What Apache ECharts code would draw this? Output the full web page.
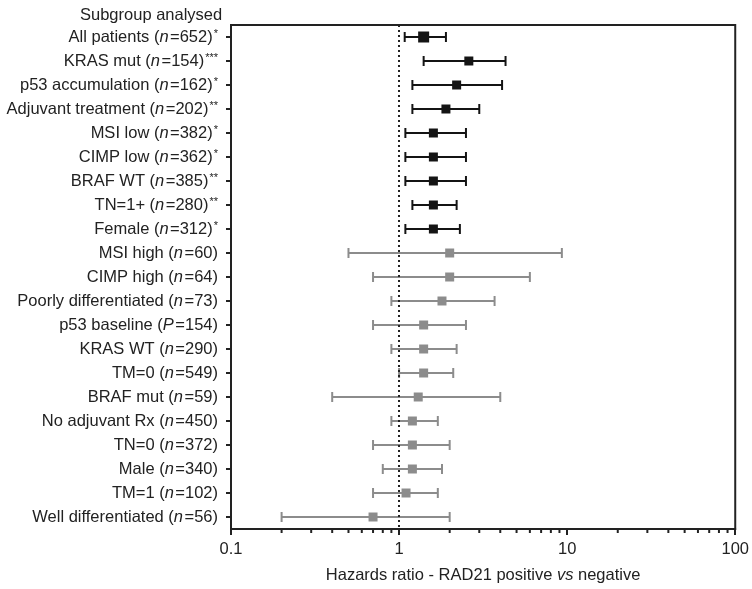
<!DOCTYPE html>
<html>
<head>
<meta charset="utf-8">
<script src="https://cdn.jsdelivr.net/npm/echarts@6/dist/echarts.min.js"></script>
<style>html,body{margin:0;padding:0;background:#fff}#c{width:752px;height:589px}</style>
</head>
<body>
<div id="c"></div>
<script>
// Subgroup labels
const groupNames = ['All patients','KRAS mut','p53 accumulation','Adjuvant treatment','MSI low','CIMP low','BRAF WT','TN=1+','Female','MSI high','CIMP high','Poorly differentiated','p53 baseline','KRAS WT','TM=0','BRAF mut','No adjuvant Rx','TN=0','Male','TM=1','Well differentiated'];
const countSymbol = ['n','n','n','n','n','n','n','n','n','n','n','n','P','n','n','n','n','n','n','n','n'];
const counts = [652,154,162,202,382,362,385,280,312,60,64,73,154,290,549,59,450,372,340,102,56];
const stars = ['*','***','*','**','*','*','**','**','*','','','','','','','','','','','',''];
// Hazard ratios and 95% CI
const hr    = [1.4, 2.6, 2.2, 1.9, 1.6, 1.6, 1.6, 1.6, 1.6, 2.0, 2.0, 1.8, 1.4, 1.4, 1.4, 1.3, 1.2, 1.2, 1.2, 1.1, 0.7];
const ciLow = [1.08,1.4, 1.2, 1.2, 1.09,1.09,1.09,1.2, 1.09,0.5, 0.7, 0.9, 0.7, 0.9, 1.0, 0.4, 0.9, 0.7, 0.8, 0.7, 0.2];
const ciHigh= [1.9, 4.3, 4.1, 3.0, 2.5, 2.5, 2.5, 2.2, 2.3, 9.3, 6.0, 3.7, 2.5, 2.2, 2.1, 4.0, 1.7, 2.0, 1.8, 1.7, 2.0];
// x-axis minor tick values
const minorTicks = [0.2,0.3,0.4,0.5,0.6,0.7,0.8,0.9,2,3,4,5,6,7,8,9,20,30,40,50,60,70,80,90];

const BLACK = '#141414', GRAY = '#8c8c8c', TEXT = '#222';
const sig = stars.map(s => s.length > 0);
const cats = groupNames.map((g, i) => i);

const chart = echarts.init(document.getElementById('c'));
const FONT = 'Liberation Sans, Arial, Helvetica, sans-serif';
const FS = 16.5;

chart.setOption({
  animation: false,
  textStyle: { fontFamily: FONT },
  title: {
    text: 'Subgroup analysed', left: 75, top: 2,
    textStyle: { fontSize: FS, fontWeight: 'normal', color: TEXT, fontFamily: FONT }
  },
  grid: { left: 231, right: 13, top: 25, bottom: 55, show: true, borderColor: '#222', borderWidth: 2, containLabel: false },
  xAxis: {
    type: 'log', logBase: 10, min: 0.1, max: 100,
    name: '{a|Hazards ratio - RAD21 positive }{i|vs}{a| negative}',
    nameLocation: 'middle', nameGap: 38,
    nameTextStyle: { rich: {
      a: { fontSize: FS, color: TEXT, fontFamily: FONT },
      i: { fontSize: FS, color: TEXT, fontStyle: 'italic', fontFamily: FONT }
    }},
    axisLine: { show: true, lineStyle: { color: '#222', width: 2 } },
    axisTick: { show: true, length: 6, lineStyle: { color: '#222', width: 2 } },
    axisLabel: { fontSize: FS, color: TEXT, margin: 12, formatter: v => String(+(+v).toPrecision(3)) },
    splitLine: { show: false }, minorTick: { show: false }
  },
  yAxis: {
    type: 'category', inverse: true, data: cats,
    axisLine: { show: true, lineStyle: { color: '#222', width: 2 } },
    axisTick: { show: true, alignWithLabel: true, length: 5, lineStyle: { color: '#222', width: 2 } },
    axisLabel: {
      margin: 13, color: TEXT,
      formatter: (v) => {
        const i = +v;
        let s = '{a|' + groupNames[i] + ' (}{i|' + countSymbol[i] + '}{a|=' + counts[i] + ')}';
        if (stars[i]) s += '{s|' + stars[i] + '}';
        return s;
      },
      rich: {
        a: { fontSize: FS, color: TEXT, fontFamily: FONT, lineHeight: 18 },
        i: { fontSize: FS, color: TEXT, fontStyle: 'italic', fontFamily: FONT, lineHeight: 18, padding: [0, 1.5, 0, 0] },
        s: { fontSize: 11, color: TEXT, fontFamily: FONT, verticalAlign: 'top', lineHeight: 14, padding: [0, 0, 0, 1] }
      }
    },
    splitLine: { show: false }
  },
  series: [
    {
      type: 'custom',
      name: 'ci',
      encode: { x: [0, 1], y: 2 },
      data: hr.map((h, i) => [ciLow[i], ciHigh[i], i]),
      renderItem: (params, api) => {
        const lo = api.coord([api.value(0), api.value(2)]);
        const hi = api.coord([api.value(1), api.value(2)]);
        const c = sig[params.dataIndex] ? BLACK : GRAY;
        const h = 5;
        const st = { stroke: c, lineWidth: 2 };
        return { type: 'group', children: [
          { type: 'line', shape: { x1: lo[0], y1: lo[1], x2: hi[0], y2: hi[1] }, style: st },
          { type: 'line', shape: { x1: lo[0], y1: lo[1] - h, x2: lo[0], y2: lo[1] + h }, style: st },
          { type: 'line', shape: { x1: hi[0], y1: hi[1] - h, x2: hi[0], y2: hi[1] + h }, style: st }
        ]};
      },
      z: 2
    },
    {
      type: 'scatter',
      name: 'hr',
      symbol: 'rect',
      data: hr.map((h, i) => [h, i]),
      symbolSize: (v, p) => p.dataIndex === 0 ? 11 : 9,
      itemStyle: { color: p => sig[p.dataIndex] ? BLACK : GRAY, opacity: 1 },
      z: 3,
      markLine: {
        silent: true, symbol: 'none', label: { show: false },
        lineStyle: { color: '#222', width: 2, type: [2, 3] },
        data: [{ xAxis: 1 }]
      }
    },
    {
      type: 'custom',
      name: 'minor',
      silent: true,
      clip: false,
      encode: { x: 0, y: 1 },
      data: minorTicks.map(v => [v, 0]),
      renderItem: (params, api) => {
        const x = api.coord([api.value(0), 0])[0];
        const y = params.coordSys.y + params.coordSys.height;
        return { type: 'line', shape: { x1: x, y1: y, x2: x, y2: y + 4 }, style: { stroke: '#222', lineWidth: 2 } };
      }
    }
  ]
});
</script>
</body>
</html>
